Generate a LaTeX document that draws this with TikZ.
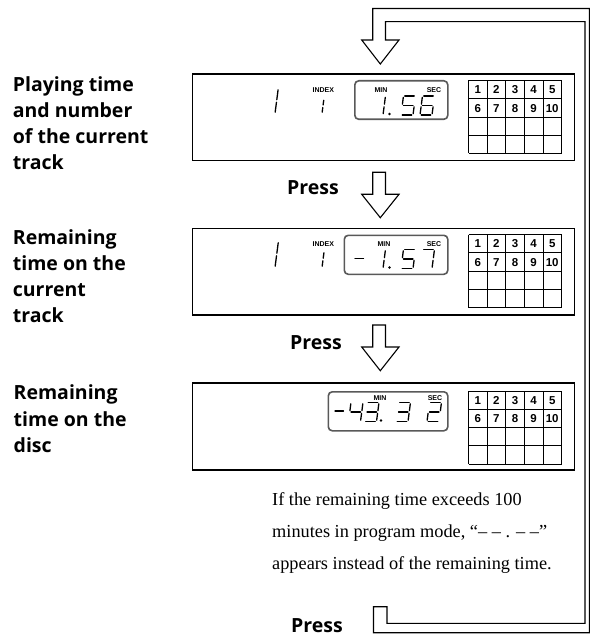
\documentclass[tikz,border=0pt]{standalone}
\usepackage{fontspec}
\setmainfont{Liberation Serif}
\newfontfamily\labfont{Open Sans}
\newfontfamily\arialfont{Liberation Sans}
\tikzset{
  disp/.style={draw, line width=1.8pt, inner sep=0pt, outer sep=0pt, anchor=north west},
  lcdbox/.style={draw=black!65, line width=1.6pt, rounded corners=4pt, inner sep=0pt, anchor=north west},
  gridline/.style={line width=0.8pt},
  loopline/.style={line width=1.1pt, line join=miter},
  segline/.style={line width=1.3pt, line cap=round},
  lab/.style={font=\labfont\bfseries\fontsize{19.5}{26}\selectfont, anchor=base west, inner sep=0pt},
  tinylab/.style={font=\arialfont\bfseries\fontsize{7}{8}\selectfont, inner sep=0pt, anchor=base},
  gridnum/.style={font=\arialfont\bfseries\fontsize{11.5}{12}\selectfont, inner sep=0pt},
  para/.style={font=\fontsize{18.3}{32}\selectfont, anchor=base west, inner sep=0pt},
}
\newcommand\sgw{12}
\newcommand\sgap{1.3}
\def\sga#1{\draw[segline] (\sgap,-#1) -- (\sgw-\sgap,-#1);}
\def\sgb#1{\draw[segline] (\sgw,-#1+\sgap) -- (\sgw,-#1/2-\sgap);}
\def\sgc#1{\draw[segline] (\sgw,-#1/2+\sgap) -- (\sgw,-\sgap);}
\def\sgd#1{\draw[segline] (\sgap,0) -- (\sgw-\sgap,0);}
\def\sge#1{\draw[segline] (0,-\sgap) -- (0,-#1/2+\sgap);}
\def\sgf#1{\draw[segline] (0,-#1/2-\sgap) -- (0,-#1+\sgap);}
\def\sgg#1{\draw[segline] (\sgap,-#1/2) -- (\sgw-\sgap,-#1/2);}
\newcommand\sevseg[4][19]{%
  \begin{scope}[shift={(#2,#3)},xslant=0.13]
    \foreach \s in {#4}{\csname sg\s\endcsname{#1}}
  \end{scope}}
\newcommand\tgrid[2]{%
  \foreach \c in {0,...,5} \draw[gridline] (468.5+18.6*\c,#1) -- (468.5+18.6*\c,#1+73);
  \foreach \r in {0,...,4} \draw[gridline] (468.5,#1+18.25*\r) -- (561.5,#1+18.25*\r);
  \foreach \n in {1,...,5} \node[gridnum] (#2n\n) at (468.5+18.6*\n-9.3,#1+9.4) {\n};
  \foreach \n in {6,...,10} \node[gridnum] (#2n\n) at (468.5+18.6*\n-93-9.3,#1+27.6) {\n};
}
\begin{document}
\begin{tikzpicture}[x=1pt,y=-1pt]
\useasboundingbox (0,0) rectangle (604,636);
\fill[white] (0,0) rectangle (604,636);

% left labels
\node[lab] (a1) at (12.7,91.5) {Playing time};
\node[lab] (a2) at (12.7,117.5) {and number};
\node[lab] (a3) at (12.7,143.5) {of the current};
\node[lab] (a4) at (12.7,169.5) {track};
\node[lab] (b1) at (12.7,244.5) {Remaining};
\node[lab] (b2) at (12.7,270.5) {time on the};
\node[lab] (b3) at (12.7,296.5) {current};
\node[lab] (b4) at (12.7,322.5) {track};
\node[lab] (c1) at (13.5,399.5) {Remaining};
\node[lab] (c2) at (13.5,426) {time on the};
\node[lab] (c3) at (13.5,452.5) {disc};

% displays
\node[disp, minimum width=382pt, minimum height=86.5pt] (d1) at (192.5,74) {};
\node[disp, minimum width=382pt, minimum height=86.5pt] (d2) at (192.5,228.5) {};
\node[disp, minimum width=382pt, minimum height=87pt] (d3) at (192.5,383) {};

% lcd time boxes
\node[lcdbox, minimum width=93pt, minimum height=38.5pt] (m1) at (354,80) {};
\node[lcdbox, minimum width=103.5pt, minimum height=39pt] (m2) at (343.5,234.5) {};
\node[lcdbox, minimum width=119.5pt, minimum height=39pt] (m3) at (327.5,391) {};

% small labels
\node[tinylab] (ix1) at (323.3,92.5) {INDEX};
\node[tinylab] (mn1) at (381,92.5) {MIN};
\node[tinylab] (sc1) at (434,92.5) {SEC};
\node[tinylab] (ix2) at (323.3,246) {INDEX};
\node[tinylab] (mn2) at (384,246) {MIN};
\node[tinylab] (sc2) at (434,246) {SEC};
\node[tinylab] (mn3) at (380,400) {MIN};
\node[tinylab] (sc3) at (435,400) {SEC};

% digits display 1
\sevseg[25]{263}{113.5}{b,c}
\sevseg[14.5]{310}{113.5}{b,c}
\sevseg{371}{115}{b,c}
\fill (389.5,114) circle (1.4pt);
\sevseg{401}{115}{a,f,g,c,d}
\sevseg{420}{115}{a,f,g,e,c,d}
% digits display 2
\sevseg[26]{263}{267.5}{b,c}
\sevseg[16]{310}{267.5}{b,c}
\draw[segline] (355,258.5) -- (363.5,258.5);
\sevseg{371}{268.5}{b,c}
\fill (389.5,267.5) circle (1.4pt);
\sevseg{401}{268.5}{a,f,g,c,d}
\sevseg{420}{268.5}{a,b,c}
% digits display 3
\draw[segline] (335,411) -- (343.5,411);
\sevseg{348.5}{421.5}{f,g,b,c}
\sevseg{364.5}{421.5}{a,b,g,c,d}
\fill (381,420.5) circle (1.4pt);
\sevseg{396}{421.5}{a,b,g,c,d}
\sevseg{427}{421.5}{a,b,g,e,d}

% track grids
\tgrid{80.5}{t1}
\tgrid{234.5}{t2}
\tgrid{391}{t3}

% press labels
\node[lab] (p1) at (287,195) {Press};
\node[lab] (p2) at (290,349) {Press};
\node[lab] (p3) at (291,632.5) {Press};

% block arrows
\draw[loopline] (372.7,172.3) -- (372.7,194.3) -- (361.7,194.3) -- (380.3,217.7) -- (399,194.3) -- (385.5,194.3) -- (385.5,172.3) -- cycle;
\draw[loopline] (372.7,325) -- (372.7,347) -- (361.7,347) -- (380.3,370.7) -- (399,347) -- (385.5,347) -- (385.5,325) -- cycle;

% return loop
\draw[loopline] (373.5,606.7) -- (373.5,632.7) -- (589.3,632.7) -- (589.3,8.5) -- (372.7,8.5)
  -- (372.7,40) -- (361.7,40) -- (380.3,64) -- (399,40) -- (385.5,40) -- (385.5,21.7)
  -- (585,21.7) -- (585,623.3) -- (387,623.3) -- (387,606.7) -- cycle;

% note
\node[para] (n1) at (272,505) {If the remaining time exceeds 100};
\node[para] (n2) at (272,537) {minutes in program mode, “– – . – –”};
\node[para] (n3) at (272,569) {appears instead of the remaining time.};
\end{tikzpicture}
\end{document}
